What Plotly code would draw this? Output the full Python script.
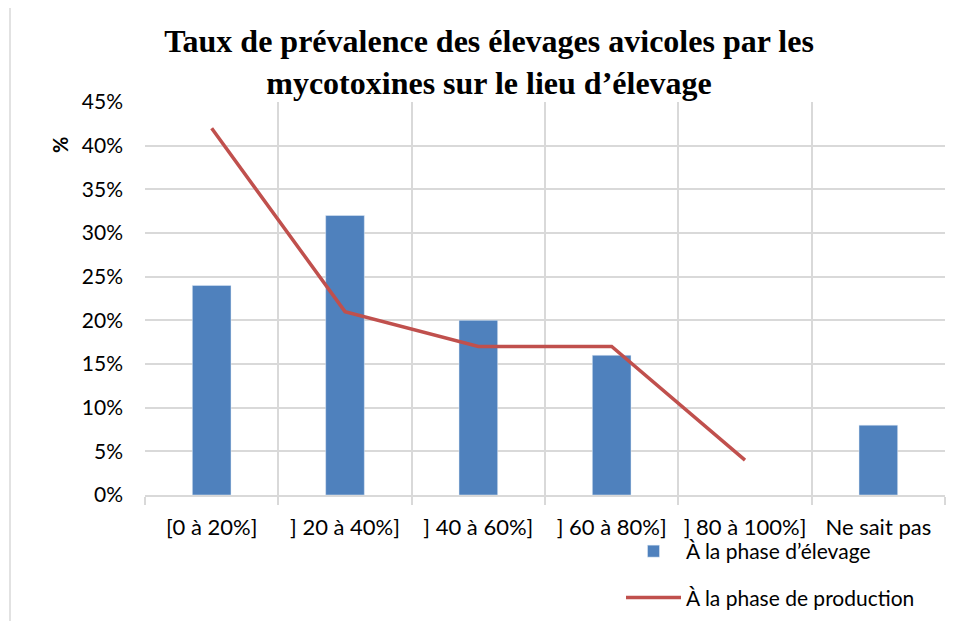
import plotly.graph_objects as go

categories = ["[0 à 20%]", "] 20 à 40%]", "] 40 à 60%]", "] 60 à 80%]", "] 80 à 100%]", "Ne sait pas"]
phase_elevage = [24, 32, 20, 16, None, 8]
phase_production = [42, 21, 17, 17, 4, None]

W, H = 959, 621
OFF = 8  # page body margin in the browser
# plot area in page pixels
X0, X1, Y0, Y1 = 145, 945, 102, 495
L, T = X0 - OFF, Y0 - OFF
R, B = W + OFF - X1, H + OFF - Y1
pw, ph = X1 - X0, Y1 - Y0


def px_x(x):
    return (x - X0) / pw


def px_y(y):
    return (Y1 - y) / ph


fig = go.Figure()
fig.add_trace(go.Bar(x=categories, y=phase_elevage, name="À la phase d’élevage",
                     marker_color="#4F81BD", width=0.29, legendgroup="a"))
fig.add_trace(go.Scatter(x=categories, y=phase_production, name="À la phase de production",
                         mode="lines", line=dict(color="#C0504D", width=3.5), legendgroup="b"))

grid = "#D9D9D9"
fig.update_layout(
    width=W, height=H,
    margin=dict(l=L, r=R, t=T, b=B, autoexpand=False),
    paper_bgcolor="white", plot_bgcolor="white",
    font=dict(family="Lato, Liberation Sans, sans-serif", size=21, color="#000000"),
    title=dict(text="<b>Taux de prévalence des élevages avicoles par les<br>mycotoxines sur le lieu d’élevage</b>",
               x=(489 - OFF) / W, xanchor="center", y=1 - 44 / H, yanchor="top",
               font=dict(family="Liberation Serif, serif", size=32, color="#000000")),
    xaxis=dict(type="category", tickson="boundaries", showgrid=True, gridcolor=grid, gridwidth=1.5,
               ticks="outside", ticklen=8, tickcolor=grid, tickwidth=1.5,
               showline=True, linecolor=grid, linewidth=1.5, automargin=False,
               ticklabelstandoff=12, tickfont=dict(size=22)),
    yaxis=dict(range=[0, 45], dtick=5, ticksuffix="%", showgrid=True, gridcolor=grid, gridwidth=1.5,
               zeroline=False, showline=False, ticks="", automargin=False,
               ticklabelstandoff=21, tickfont=dict(size=21)),
    showlegend=True,
    legend=dict(x=px_x(621), xanchor="left", y=px_y(531), yanchor="top", orientation="v",
                traceorder="grouped", tracegroupgap=16,
                font=dict(size=21), bgcolor="rgba(0,0,0,0)", itemwidth=55),
)

fig.add_annotation(text="<b>%</b>", x=px_x(60), y=px_y(145), xref="paper", yref="paper",
                   xanchor="center", yanchor="middle", showarrow=False,
                   textangle=-90, font=dict(size=20))

# outer chart border
fig.add_shape(type="rect", xref="paper", yref="paper",
              x0=px_x(10), x1=px_x(975), y0=px_y(640), y1=px_y(6),
              line=dict(color=grid, width=1.5), fillcolor="rgba(0,0,0,0)", layer="below")

fig.write_html("out.html")
